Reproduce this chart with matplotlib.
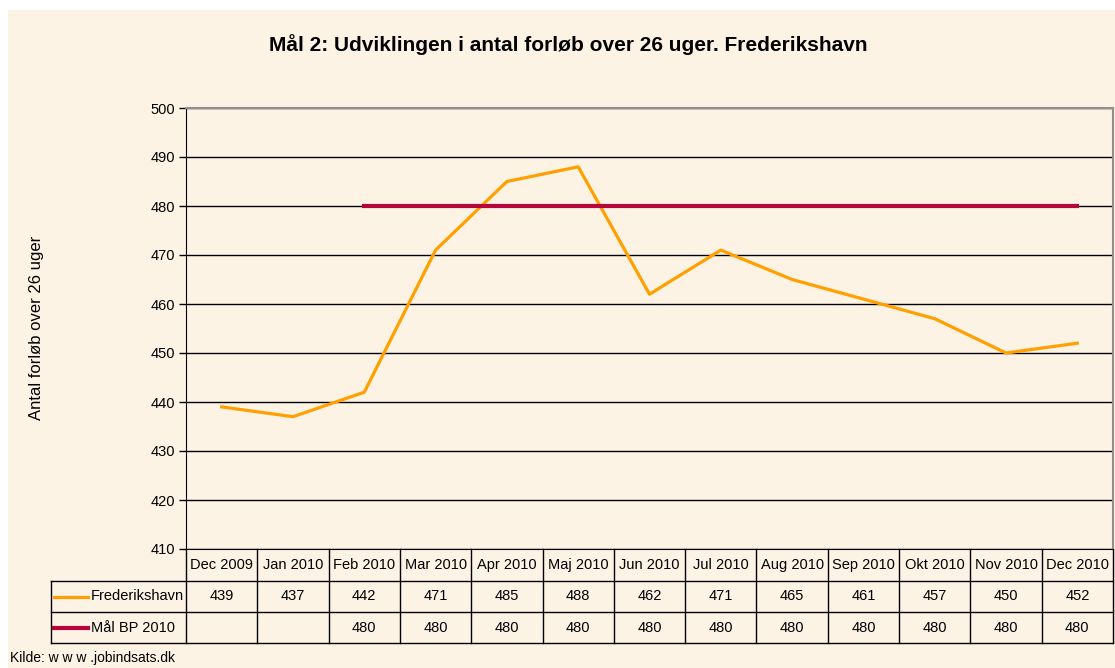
import matplotlib.pyplot as plt
import matplotlib.transforms as mtransforms
from matplotlib.lines import Line2D
from matplotlib.patches import Rectangle

# --- data ---
months = ["Dec 2009", "Jan 2010", "Feb 2010", "Mar 2010", "Apr 2010", "Maj 2010",
          "Jun 2010", "Jul 2010", "Aug 2010", "Sep 2010", "Okt 2010", "Nov 2010", "Dec 2010"]
frederikshavn = [439, 437, 442, 471, 485, 488, 462, 471, 465, 461, 457, 450, 452]
maal_bp = [None, None, 480, 480, 480, 480, 480, 480, 480, 480, 480, 480, 480]
series_names = ["Frederikshavn", "Mål BP 2010"]

# --- style ---
BG = "#FDF3E5"
ORANGE = "#FFA000"
RED = "#B5073B"
W, H = 1115, 668
FS = 10.5

plt.rcParams['font.family'] = ['Liberation Sans', 'DejaVu Sans']

fig = plt.figure(figsize=(W / 100, H / 100), dpi=100, facecolor="white")
fig.add_artist(Rectangle((8 / W, 0), 1, 1 - 10 / H, transform=fig.transFigure,
                         facecolor=BG, edgecolor="none", zorder=-10))

def fy(px):
    return 1 - px / H

ax = fig.add_axes([186 / W, fy(549), (1113 - 186) / W, (549 - 108) / H])
ax.patch.set_alpha(0)

x = list(range(len(months)))
ax.plot(x, frederikshavn, color=ORANGE, lw=2.3, zorder=3)
mx = [i for i, v in zip(x, maal_bp) if v is not None]
my = [v for v in maal_bp if v is not None]
ax.plot(mx, my, color=RED, lw=3.0, zorder=4)

ax.set_xlim(-0.5, len(months) - 0.5)
ax.set_ylim(410, 500)
ax.set_yticks(range(410, 501, 10))
ax.set_xticks([])
ax.tick_params(axis="y", labelsize=FS, length=5, width=1, direction="out", pad=3)
ax.yaxis.grid(True, color="black", lw=1)
ax.set_axisbelow(True)
for side in ["top", "right"]:
    ax.spines[side].set_color("#909090")
    ax.spines[side].set_linewidth(1.5)

fig.text(37 / W, fy(328), "Antal forløb over 26 uger", rotation=90,
         ha="center", va="center", fontsize=12)

fig.text(568 / W, fy(45), "Mål 2: Udviklingen i antal forløb over 26 uger. Frederikshavn",
         ha="center", va="center", fontsize=15, fontweight="bold")

# --- data table under the plot ---
tr = mtransforms.blended_transform_factory(ax.transData, fig.transFigure)
row_top, row1, row2, row3 = 549, 581, 612, 643
left_px = 51

for ypx in [row1, row2, row3]:
    fig.add_artist(Line2D([left_px / W, 1113 / W], [fy(ypx), fy(ypx)],
                          transform=fig.transFigure, color="black", lw=1))
fig.add_artist(Line2D([left_px / W, left_px / W], [fy(row1), fy(row3)],
                      transform=fig.transFigure, color="black", lw=1))
for b in [i - 0.5 for i in range(len(months) + 1)]:
    ax.add_line(Line2D([b, b], [fy(row_top), fy(row3)], transform=tr,
                       color="black", lw=1, clip_on=False))

for i, m in enumerate(months):
    ax.text(i, fy((row_top + row1) / 2), m, transform=tr, ha="center", va="center", fontsize=FS)
    ax.text(i, fy((row1 + row2) / 2), str(frederikshavn[i]), transform=tr,
            ha="center", va="center", fontsize=FS)
    if maal_bp[i] is not None:
        ax.text(i, fy((row2 + row3) / 2), str(maal_bp[i]), transform=tr,
                ha="center", va="center", fontsize=FS)

for (ypx0, ypx1), name, col, lw in [((row1, row2), series_names[0], ORANGE, 2.3),
                                    ((row2, row3), series_names[1], RED, 3.0)]:
    yc = fy((ypx0 + ypx1) / 2)
    fig.add_artist(Line2D([54 / W, 88 / W], [yc, yc], transform=fig.transFigure, color=col, lw=lw))
    fig.text(91 / W, yc, name, ha="left", va="center", fontsize=FS)

fig.text(10 / W, fy(658), "Kilde: w w w .jobindsats.dk", ha="left", va="center", fontsize=10)

fig.savefig("out.png", dpi=100, facecolor=fig.get_facecolor())
